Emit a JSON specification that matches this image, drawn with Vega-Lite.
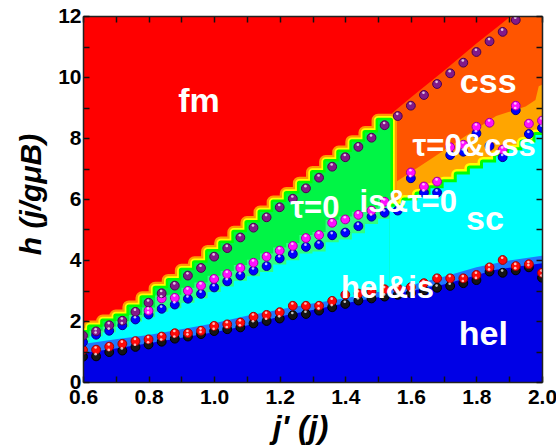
{
  "$schema": "https://vega.github.io/schema/vega-lite/v6.json",
  "width": 459,
  "height": 366,
  "autosize": "none",
  "padding": {"left": 83, "top": 16, "right": 14, "bottom": 66},
  "background": "white",
  "config": {"view": {"stroke": null}},
  "datasets": {
    "bg": [{"x": 0.6, "x2": 2.0, "y": 0, "y2": 12}],
    "css": [
      {"x": 1.535, "y": 8.75}, {"x": 1.6, "y": 9.33}, {"x": 1.7, "y": 10.2}, {"x": 1.8, "y": 11.1},
      {"x": 1.88, "y": 11.78}, {"x": 1.905, "y": 12.0}, {"x": 2.0, "y": 12.0}
    ],
    "orange": [
      {"x": 1.535, "y": 6.45}, {"x": 1.56, "y": 6.6}, {"x": 1.66, "y": 7.3}, {"x": 1.76, "y": 8.02},
      {"x": 1.86, "y": 8.72}, {"x": 1.95, "y": 9.03}, {"x": 1.98, "y": 9.25}, {"x": 1.99, "y": 9.7}, {"x": 2.0, "y": 9.75}
    ],
    "upper": [
      {"x": 0.58, "y": 1.62}, {"x": 0.62, "y": 1.80}, {"x": 0.66, "y": 2.00}, {"x": 0.70, "y": 2.16},
      {"x": 0.74, "y": 2.46}, {"x": 0.78, "y": 2.76}, {"x": 0.82, "y": 3.07}, {"x": 0.86, "y": 3.33},
      {"x": 0.90, "y": 3.66}, {"x": 0.94, "y": 3.91}, {"x": 0.98, "y": 4.28}, {"x": 1.02, "y": 4.56},
      {"x": 1.06, "y": 4.91}, {"x": 1.10, "y": 5.23}, {"x": 1.14, "y": 5.57}, {"x": 1.18, "y": 5.90},
      {"x": 1.22, "y": 6.18}, {"x": 1.26, "y": 6.52}, {"x": 1.30, "y": 6.87}, {"x": 1.34, "y": 7.23},
      {"x": 1.38, "y": 7.54}, {"x": 1.42, "y": 7.88}, {"x": 1.46, "y": 8.18}, {"x": 1.50, "y": 8.58},
      {"x": 1.538, "y": 6.2}
    ],
    "band": [
      {"x": 0.58, "y": 1.45}, {"x": 0.62, "y": 1.68}, {"x": 0.66, "y": 1.82}, {"x": 0.70, "y": 2.0},
      {"x": 0.74, "y": 2.2}, {"x": 0.78, "y": 2.44}, {"x": 0.82, "y": 2.84}, {"x": 0.86, "y": 2.86},
      {"x": 0.90, "y": 3.09}, {"x": 0.94, "y": 3.26}, {"x": 0.98, "y": 3.48}, {"x": 1.02, "y": 3.64},
      {"x": 1.06, "y": 3.84}, {"x": 1.10, "y": 4.01}, {"x": 1.14, "y": 4.21}, {"x": 1.18, "y": 4.41},
      {"x": 1.22, "y": 4.56}, {"x": 1.26, "y": 4.82}, {"x": 1.30, "y": 4.92}, {"x": 1.34, "y": 5.32},
      {"x": 1.38, "y": 5.43}, {"x": 1.42, "y": 5.58}, {"x": 1.46, "y": 5.72}, {"x": 1.50, "y": 6.01},
      {"x": 1.535, "y": 6.0}
    ],
    "cyanL": [
      {"x": 0.58, "y": 1.30}, {"x": 0.62, "y": 1.50}, {"x": 0.66, "y": 1.63}, {"x": 0.70, "y": 1.80},
      {"x": 0.74, "y": 1.98}, {"x": 0.78, "y": 2.12}, {"x": 0.82, "y": 2.30}, {"x": 0.86, "y": 2.42},
      {"x": 0.90, "y": 2.60}, {"x": 0.94, "y": 2.75}, {"x": 0.98, "y": 2.95}, {"x": 1.02, "y": 3.13},
      {"x": 1.06, "y": 3.32}, {"x": 1.10, "y": 3.47}, {"x": 1.14, "y": 3.61}, {"x": 1.18, "y": 3.85},
      {"x": 1.22, "y": 3.99}, {"x": 1.26, "y": 4.21}, {"x": 1.30, "y": 4.28}, {"x": 1.34, "y": 4.58},
      {"x": 1.38, "y": 4.67}, {"x": 1.42, "y": 4.88}, {"x": 1.46, "y": 5.18}, {"x": 1.50, "y": 5.35},
      {"x": 1.535, "y": 5.6}
    ],
    "cyanR": [
      {"x": 1.535, "y": 5.75}, {"x": 1.58, "y": 5.95}, {"x": 1.62, "y": 6.15}, {"x": 1.66, "y": 6.35},
      {"x": 1.70, "y": 6.55}, {"x": 1.74, "y": 6.8}, {"x": 1.78, "y": 7.0}, {"x": 1.82, "y": 7.2},
      {"x": 1.86, "y": 7.4}, {"x": 1.90, "y": 7.6}, {"x": 1.94, "y": 7.85}, {"x": 1.98, "y": 8.1},
      {"x": 2.0, "y": 8.1}
    ],
    "helis": [
      {"x": 0.6, "y": 1.25}, {"x": 0.7, "y": 1.40}, {"x": 0.8, "y": 1.54}, {"x": 0.9, "y": 1.73},
      {"x": 1.0, "y": 1.93}, {"x": 1.1, "y": 2.17}, {"x": 1.2, "y": 2.38}, {"x": 1.3, "y": 2.57},
      {"x": 1.4, "y": 2.75}, {"x": 1.5, "y": 2.95}, {"x": 1.6, "y": 3.17}, {"x": 1.7, "y": 3.45},
      {"x": 1.8, "y": 3.76}, {"x": 1.9, "y": 3.98}, {"x": 2.0, "y": 4.14}
    ],
    "hel": [
      {"x": 0.6, "y": 0.95}, {"x": 0.7, "y": 1.10}, {"x": 0.8, "y": 1.27}, {"x": 0.9, "y": 1.45},
      {"x": 1.0, "y": 1.63}, {"x": 1.1, "y": 1.85}, {"x": 1.2, "y": 2.15}, {"x": 1.3, "y": 2.36},
      {"x": 1.4, "y": 2.58}, {"x": 1.5, "y": 2.78}, {"x": 1.6, "y": 2.98}, {"x": 1.7, "y": 3.20},
      {"x": 1.8, "y": 3.50}, {"x": 1.85, "y": 3.66}, {"x": 1.9, "y": 3.75}, {"x": 2.0, "y": 3.89}
    ],
    "dots": [
      {"s": "black", "x": 0.60, "y": 0.83}, {"s": "black", "x": 0.64, "y": 0.84}, {"s": "black", "x": 0.68, "y": 0.98},
      {"s": "black", "x": 0.72, "y": 1.03}, {"s": "black", "x": 0.76, "y": 1.15}, {"s": "black", "x": 0.80, "y": 1.23},
      {"s": "black", "x": 0.84, "y": 1.32}, {"s": "black", "x": 0.88, "y": 1.42}, {"s": "black", "x": 0.92, "y": 1.49},
      {"s": "black", "x": 0.96, "y": 1.57}, {"s": "black", "x": 1.00, "y": 1.67}, {"s": "black", "x": 1.04, "y": 1.73},
      {"s": "black", "x": 1.08, "y": 1.79}, {"s": "black", "x": 1.12, "y": 1.92}, {"s": "black", "x": 1.16, "y": 2.00},
      {"s": "black", "x": 1.20, "y": 2.08}, {"s": "black", "x": 1.24, "y": 2.19}, {"s": "black", "x": 1.28, "y": 2.23},
      {"s": "black", "x": 1.32, "y": 2.34}, {"s": "black", "x": 1.36, "y": 2.45}, {"s": "black", "x": 1.40, "y": 2.56},
      {"s": "black", "x": 1.44, "y": 2.67}, {"s": "black", "x": 1.48, "y": 2.74}, {"s": "black", "x": 1.52, "y": 2.80},
      {"s": "black", "x": 1.56, "y": 2.86}, {"s": "black", "x": 1.60, "y": 2.91}, {"s": "black", "x": 1.64, "y": 3.00},
      {"s": "black", "x": 1.68, "y": 3.09}, {"s": "black", "x": 1.72, "y": 3.15}, {"s": "black", "x": 1.76, "y": 3.24},
      {"s": "black", "x": 1.80, "y": 3.34}, {"s": "black", "x": 1.84, "y": 3.62}, {"s": "black", "x": 1.88, "y": 3.58},
      {"s": "black", "x": 1.92, "y": 3.66}, {"s": "black", "x": 1.96, "y": 3.76}, {"s": "black", "x": 2.00, "y": 3.42},
      {"s": "red", "x": 0.60, "y": 1.05}, {"s": "red", "x": 0.64, "y": 1.06}, {"s": "red", "x": 0.68, "y": 1.16},
      {"s": "red", "x": 0.72, "y": 1.25}, {"s": "red", "x": 0.76, "y": 1.34}, {"s": "red", "x": 0.80, "y": 1.40},
      {"s": "red", "x": 0.84, "y": 1.49}, {"s": "red", "x": 0.88, "y": 1.60}, {"s": "red", "x": 0.92, "y": 1.60},
      {"s": "red", "x": 0.96, "y": 1.68}, {"s": "red", "x": 1.00, "y": 1.84}, {"s": "red", "x": 1.04, "y": 1.89},
      {"s": "red", "x": 1.08, "y": 1.95}, {"s": "red", "x": 1.12, "y": 2.14}, {"s": "red", "x": 1.16, "y": 2.20},
      {"s": "red", "x": 1.20, "y": 2.29}, {"s": "red", "x": 1.24, "y": 2.50}, {"s": "red", "x": 1.28, "y": 2.50},
      {"s": "red", "x": 1.32, "y": 2.50}, {"s": "red", "x": 1.36, "y": 2.66}, {"s": "red", "x": 1.40, "y": 2.86},
      {"s": "red", "x": 1.44, "y": 2.90}, {"s": "red", "x": 1.48, "y": 2.97}, {"s": "red", "x": 1.52, "y": 3.04},
      {"s": "red", "x": 1.56, "y": 3.07}, {"s": "red", "x": 1.60, "y": 3.11}, {"s": "red", "x": 1.64, "y": 3.24},
      {"s": "red", "x": 1.68, "y": 3.40}, {"s": "red", "x": 1.72, "y": 3.40}, {"s": "red", "x": 1.76, "y": 3.40},
      {"s": "red", "x": 1.80, "y": 3.51}, {"s": "red", "x": 1.84, "y": 3.76}, {"s": "red", "x": 1.88, "y": 4.00},
      {"s": "red", "x": 1.92, "y": 3.80}, {"s": "red", "x": 1.96, "y": 3.86}, {"s": "red", "x": 2.00, "y": 3.58},
      {"s": "blue", "x": 0.60, "y": 1.31}, {"s": "blue", "x": 0.64, "y": 1.55}, {"s": "blue", "x": 0.68, "y": 1.68},
      {"s": "blue", "x": 0.72, "y": 1.86}, {"s": "blue", "x": 0.76, "y": 2.05}, {"s": "blue", "x": 0.80, "y": 2.21},
      {"s": "blue", "x": 0.84, "y": 2.40}, {"s": "blue", "x": 0.88, "y": 2.54}, {"s": "blue", "x": 0.92, "y": 2.73},
      {"s": "blue", "x": 0.96, "y": 2.89}, {"s": "blue", "x": 1.00, "y": 3.10}, {"s": "blue", "x": 1.04, "y": 3.30},
      {"s": "blue", "x": 1.08, "y": 3.49}, {"s": "blue", "x": 1.12, "y": 3.65}, {"s": "blue", "x": 1.16, "y": 3.80},
      {"s": "blue", "x": 1.20, "y": 4.05}, {"s": "blue", "x": 1.24, "y": 4.20}, {"s": "blue", "x": 1.28, "y": 4.43},
      {"s": "blue", "x": 1.32, "y": 4.50}, {"s": "blue", "x": 1.36, "y": 4.81}, {"s": "blue", "x": 1.40, "y": 4.90},
      {"s": "blue", "x": 1.44, "y": 5.11}, {"s": "blue", "x": 1.48, "y": 5.42}, {"s": "blue", "x": 1.52, "y": 5.55},
      {"s": "blue", "x": 1.56, "y": 5.62}, {"s": "blue", "x": 1.60, "y": 6.68}, {"s": "blue", "x": 1.64, "y": 6.21},
      {"s": "blue", "x": 1.68, "y": 6.21}, {"s": "blue", "x": 1.72, "y": 7.44}, {"s": "blue", "x": 1.76, "y": 7.55},
      {"s": "blue", "x": 1.80, "y": 8.15}, {"s": "blue", "x": 1.84, "y": 7.74}, {"s": "blue", "x": 1.88, "y": 7.37},
      {"s": "blue", "x": 1.92, "y": 8.91}, {"s": "blue", "x": 1.96, "y": 8.13}, {"s": "blue", "x": 2.00, "y": 8.33},
      {"s": "magenta", "x": 0.80, "y": 2.34}, {"s": "magenta", "x": 0.84, "y": 2.74}, {"s": "magenta", "x": 0.88, "y": 2.76},
      {"s": "magenta", "x": 0.92, "y": 2.99}, {"s": "magenta", "x": 0.96, "y": 3.16}, {"s": "magenta", "x": 1.00, "y": 3.38},
      {"s": "magenta", "x": 1.04, "y": 3.54}, {"s": "magenta", "x": 1.08, "y": 3.74}, {"s": "magenta", "x": 1.12, "y": 3.91},
      {"s": "magenta", "x": 1.16, "y": 4.11}, {"s": "magenta", "x": 1.20, "y": 4.31}, {"s": "magenta", "x": 1.24, "y": 4.46},
      {"s": "magenta", "x": 1.28, "y": 4.72}, {"s": "magenta", "x": 1.32, "y": 4.82}, {"s": "magenta", "x": 1.36, "y": 5.22},
      {"s": "magenta", "x": 1.40, "y": 5.33}, {"s": "magenta", "x": 1.44, "y": 5.48}, {"s": "magenta", "x": 1.48, "y": 5.62},
      {"s": "magenta", "x": 1.52, "y": 5.91}, {"s": "magenta", "x": 1.60, "y": 6.87}, {"s": "magenta", "x": 1.64, "y": 6.41},
      {"s": "magenta", "x": 1.68, "y": 6.57}, {"s": "magenta", "x": 1.72, "y": 7.70}, {"s": "magenta", "x": 1.76, "y": 7.78},
      {"s": "magenta", "x": 1.80, "y": 8.37}, {"s": "magenta", "x": 1.84, "y": 8.50}, {"s": "magenta", "x": 1.88, "y": 7.62},
      {"s": "magenta", "x": 1.92, "y": 9.06}, {"s": "magenta", "x": 1.96, "y": 8.47}, {"s": "magenta", "x": 2.00, "y": 8.57},
      {"s": "purple", "x": 0.60, "y": 1.52}, {"s": "purple", "x": 0.64, "y": 1.66}, {"s": "purple", "x": 0.68, "y": 1.86},
      {"s": "purple", "x": 0.72, "y": 2.01}, {"s": "purple", "x": 0.76, "y": 2.30}, {"s": "purple", "x": 0.80, "y": 2.60},
      {"s": "purple", "x": 0.84, "y": 2.91}, {"s": "purple", "x": 0.88, "y": 3.16}, {"s": "purple", "x": 0.92, "y": 3.49},
      {"s": "purple", "x": 0.96, "y": 3.74}, {"s": "purple", "x": 1.00, "y": 4.11}, {"s": "purple", "x": 1.04, "y": 4.39},
      {"s": "purple", "x": 1.08, "y": 4.74}, {"s": "purple", "x": 1.12, "y": 5.06}, {"s": "purple", "x": 1.16, "y": 5.40},
      {"s": "purple", "x": 1.20, "y": 5.73}, {"s": "purple", "x": 1.24, "y": 6.01}, {"s": "purple", "x": 1.28, "y": 6.35},
      {"s": "purple", "x": 1.32, "y": 6.70}, {"s": "purple", "x": 1.36, "y": 7.06}, {"s": "purple", "x": 1.40, "y": 7.37},
      {"s": "purple", "x": 1.44, "y": 7.71}, {"s": "purple", "x": 1.48, "y": 8.01}, {"s": "purple", "x": 1.52, "y": 8.42},
      {"s": "purple", "x": 1.56, "y": 8.72}, {"s": "purple", "x": 1.60, "y": 9.06}, {"s": "purple", "x": 1.64, "y": 9.41},
      {"s": "purple", "x": 1.68, "y": 9.77}, {"s": "purple", "x": 1.72, "y": 10.12}, {"s": "purple", "x": 1.76, "y": 10.47},
      {"s": "purple", "x": 1.80, "y": 10.82}, {"s": "purple", "x": 1.84, "y": 11.17}, {"s": "purple", "x": 1.88, "y": 11.48},
      {"s": "purple", "x": 1.92, "y": 11.87}
    ],
    "labelsBig": [
      {"t": "fm", "x": 0.954, "y": 8.86}, {"t": "css", "x": 1.836, "y": 9.46},
      {"t": "sc", "x": 1.826, "y": 4.98}, {"t": "hel", "x": 1.821, "y": 1.22}
    ],
    "labelsSmall": [
      {"t": "τ=0&css", "x": 1.793, "y": 7.41}, {"t": "τ=0", "x": 1.307, "y": 5.37},
      {"t": "is&τ=0", "x": 1.592, "y": 5.58}, {"t": "hel&is", "x": 1.529, "y": 2.75}
    ]
  },
  "resolve": {"scale": {"x": "shared", "y": "shared"}, "axis": {"x": "independent", "y": "independent"}},
  "layer": [
    {
      "data": {"name": "bg"},
      "mark": {"type": "rect", "color": "#FF0000"},
      "encoding": {
        "x": {"field": "x", "type": "quantitative", "scale": {"domain": [0.6, 2.0], "nice": false, "zero": false},
          "axis": {"orient": "bottom", "values": [0.6, 0.7, 0.8, 0.9, 1.0, 1.1, 1.2, 1.3, 1.4, 1.5, 1.6, 1.7, 1.8, 1.9, 2.0],
            "labelExpr": "round(datum.value*10) % 2 == 0 ? format(datum.value, '.1f') : ''",
            "labelFont": "Liberation Sans", "labelFontWeight": "bold", "labelFontSize": 21, "labelColor": "#000",
            "labelPadding": 10, "labelFlush": false, "labelOverlap": false, "grid": false,
            "tickSize": -6, "tickWidth": 1.5, "tickColor": "#111", "domainColor": "#222", "domainWidth": 1.5, "zindex": 1,
            "title": "j' (j)", "titleFont": "Liberation Sans", "titleFontStyle": "italic", "titleFontWeight": "bold",
            "titleFontSize": 32, "titleColor": "#000", "titleX": 217, "titleY": 55, "titleBaseline": "alphabetic", "titleAlign": "center"}},
        "x2": {"field": "x2"},
        "y": {"field": "y", "type": "quantitative", "scale": {"domain": [0, 12], "nice": false, "zero": false},
          "axis": {"orient": "left", "values": [0, 1, 2, 3, 4, 5, 6, 7, 8, 9, 10, 11, 12],
            "labelExpr": "datum.value % 2 == 0 ? format(datum.value, 'd') : ''",
            "labelFont": "Liberation Sans", "labelFontWeight": "bold", "labelFontSize": 21, "labelColor": "#000",
            "labelPadding": 8, "labelFlush": false, "labelOverlap": false, "grid": false,
            "tickSize": -6, "tickWidth": 1.5, "tickColor": "#111", "domainColor": "#222", "domainWidth": 1.5, "zindex": 1,
            "title": "h (j/gμB)", "titleFont": "Liberation Sans", "titleFontStyle": "italic", "titleFontWeight": "bold",
            "titleFontSize": 30, "titleColor": "#000", "titleX": -43, "titleY": 178, "titleBaseline": "alphabetic", "titleAlign": "center", "titleAngle": -90}},
        "y2": {"field": "y2"}
      }
    },
    {
      "data": {"name": "bg"},
      "mark": {"type": "rect", "opacity": 0},
      "encoding": {
        "x": {"field": "x", "type": "quantitative", "scale": {"domain": [0.6, 2.0]},
          "axis": {"orient": "top", "values": [0.6, 0.7, 0.8, 0.9, 1.0, 1.1, 1.2, 1.3, 1.4, 1.5, 1.6, 1.7, 1.8, 1.9, 2.0],
            "labels": false, "title": null, "grid": false, "tickSize": -6, "tickWidth": 1.5, "tickColor": "#111",
            "domainColor": "#222", "domainWidth": 1.5, "zindex": 1}},
        "x2": {"field": "x2"},
        "y": {"field": "y", "type": "quantitative", "scale": {"domain": [0, 12]},
          "axis": {"orient": "right", "values": [0, 1, 2, 3, 4, 5, 6, 7, 8, 9, 10, 11, 12],
            "labels": false, "title": null, "grid": false, "tickSize": -6, "tickWidth": 1.5, "tickColor": "#111",
            "domainColor": "#222", "domainWidth": 1.5, "zindex": 1}},
        "y2": {"field": "y2"}
      }
    },
    {
      "data": {"name": "css"},
      "mark": {"type": "area", "color": "#FF5500", "clip": true},
      "encoding": {
        "x": {"field": "x", "type": "quantitative", "scale": {"domain": [0.6, 2.0]}, "axis": null},
        "y": {"field": "y", "type": "quantitative", "scale": {"domain": [0, 12]}, "axis": null}
      }
    },
    {
      "data": {"name": "orange"},
      "mark": {"type": "area", "color": "#FFA500", "clip": true},
      "encoding": {
        "x": {"field": "x", "type": "quantitative", "scale": {"domain": [0.6, 2.0]}, "axis": null},
        "y": {"field": "y", "type": "quantitative", "scale": {"domain": [0, 12]}, "axis": null}
      }
    },
    {
      "data": {"name": "upper"},
      "mark": {"type": "line", "interpolate": "step-after", "color": "#FF9A00", "strokeWidth": 13, "strokeJoin": "round", "clip": true},
      "encoding": {
        "x": {"field": "x", "type": "quantitative", "scale": {"domain": [0.6, 2.0]}, "axis": null},
        "y": {"field": "y", "type": "quantitative", "scale": {"domain": [0, 12]}, "axis": null}
      }
    },
    {
      "data": {"name": "upper"},
      "mark": {"type": "line", "interpolate": "step-after", "color": "#FFFF00", "strokeWidth": 8.5, "strokeJoin": "round", "clip": true},
      "encoding": {
        "x": {"field": "x", "type": "quantitative", "scale": {"domain": [0.6, 2.0]}, "axis": null},
        "y": {"field": "y", "type": "quantitative", "scale": {"domain": [0, 12]}, "axis": null}
      }
    },
    {
      "data": {"name": "upper"},
      "mark": {"type": "line", "interpolate": "step-after", "color": "#00FF00", "strokeWidth": 5, "strokeJoin": "round", "clip": true},
      "encoding": {
        "x": {"field": "x", "type": "quantitative", "scale": {"domain": [0.6, 2.0]}, "axis": null},
        "y": {"field": "y", "type": "quantitative", "scale": {"domain": [0, 12]}, "axis": null}
      }
    },
    {
      "data": {"name": "upper"},
      "mark": {"type": "area", "interpolate": "step-after", "color": "#00F545", "clip": true},
      "encoding": {
        "x": {"field": "x", "type": "quantitative", "scale": {"domain": [0.6, 2.0]}, "axis": null},
        "y": {"field": "y", "type": "quantitative", "scale": {"domain": [0, 12]}, "axis": null}
      }
    },
    {
      "data": {"name": "band"},
      "mark": {"type": "area", "interpolate": "step-after", "color": "#2EFF80", "clip": true},
      "encoding": {
        "x": {"field": "x", "type": "quantitative", "scale": {"domain": [0.6, 2.0]}, "axis": null},
        "y": {"field": "y", "type": "quantitative", "scale": {"domain": [0, 12]}, "axis": null}
      }
    },
    {
      "data": {"name": "cyanR"},
      "mark": {"type": "line", "interpolate": "step-after", "color": "#FFFF00", "strokeWidth": 11, "strokeJoin": "round", "clip": true},
      "encoding": {
        "x": {"field": "x", "type": "quantitative", "scale": {"domain": [0.6, 2.0]}, "axis": null},
        "y": {"field": "y", "type": "quantitative", "scale": {"domain": [0, 12]}, "axis": null}
      }
    },
    {
      "data": {"name": "cyanR"},
      "mark": {"type": "line", "interpolate": "step-after", "color": "#00FF00", "strokeWidth": 6, "strokeJoin": "round", "clip": true},
      "encoding": {
        "x": {"field": "x", "type": "quantitative", "scale": {"domain": [0.6, 2.0]}, "axis": null},
        "y": {"field": "y", "type": "quantitative", "scale": {"domain": [0, 12]}, "axis": null}
      }
    },
    {
      "data": {"name": "cyanL"},
      "mark": {"type": "area", "interpolate": "step-after", "color": "#00FFFF", "clip": true},
      "encoding": {
        "x": {"field": "x", "type": "quantitative", "scale": {"domain": [0.6, 2.0]}, "axis": null},
        "y": {"field": "y", "type": "quantitative", "scale": {"domain": [0, 12]}, "axis": null}
      }
    },
    {
      "data": {"name": "cyanR"},
      "mark": {"type": "area", "interpolate": "step-after", "color": "#00FFFF", "clip": true},
      "encoding": {
        "x": {"field": "x", "type": "quantitative", "scale": {"domain": [0.6, 2.0]}, "axis": null},
        "y": {"field": "y", "type": "quantitative", "scale": {"domain": [0, 12]}, "axis": null}
      }
    },
    {
      "data": {"name": "helis"},
      "mark": {"type": "area", "color": "#1E78FF", "clip": true},
      "encoding": {
        "x": {"field": "x", "type": "quantitative", "scale": {"domain": [0.6, 2.0]}, "axis": null},
        "y": {"field": "y", "type": "quantitative", "scale": {"domain": [0, 12]}, "axis": null}
      }
    },
    {
      "data": {"name": "hel"},
      "mark": {"type": "area", "color": "#0000E6", "clip": true},
      "encoding": {
        "x": {"field": "x", "type": "quantitative", "scale": {"domain": [0.6, 2.0]}, "axis": null},
        "y": {"field": "y", "type": "quantitative", "scale": {"domain": [0, 12]}, "axis": null}
      }
    },
    {
      "data": {"name": "dots"},
      "mark": {"type": "circle", "size": 78, "opacity": 1, "strokeWidth": 1, "clip": true},
      "encoding": {
        "x": {"field": "x", "type": "quantitative", "scale": {"domain": [0.6, 2.0]}, "axis": null},
        "y": {"field": "y", "type": "quantitative", "scale": {"domain": [0, 12]}, "axis": null},
        "fill": {"field": "s", "type": "nominal", "legend": null,
          "scale": {"domain": ["black", "red", "blue", "magenta", "purple"], "range": ["#151515", "#FF0A0A", "#0000FF", "#FF10FF", "#821A8A"]}},
        "stroke": {"field": "s", "type": "nominal", "legend": null,
          "scale": {"domain": ["black", "red", "blue", "magenta", "purple"], "range": ["#000000", "#A00000", "#000090", "#A000A0", "#4A0050"]}}
      }
    },
    {
      "data": {"name": "dots"},
      "mark": {"type": "circle", "size": 7, "color": "#FFFFFF", "opacity": 0.75, "xOffset": -0.5, "yOffset": -2.2, "clip": true},
      "encoding": {
        "x": {"field": "x", "type": "quantitative", "scale": {"domain": [0.6, 2.0]}, "axis": null},
        "y": {"field": "y", "type": "quantitative", "scale": {"domain": [0, 12]}, "axis": null}
      }
    },
    {
      "data": {"name": "labelsBig"},
      "mark": {"type": "text", "font": "Liberation Sans", "fontWeight": "bold", "fontSize": 34, "color": "#FFFFFF", "align": "center", "baseline": "alphabetic"},
      "encoding": {
        "x": {"field": "x", "type": "quantitative", "scale": {"domain": [0.6, 2.0]}, "axis": null},
        "y": {"field": "y", "type": "quantitative", "scale": {"domain": [0, 12]}, "axis": null},
        "text": {"field": "t"}
      }
    },
    {
      "data": {"name": "labelsSmall"},
      "mark": {"type": "text", "font": "Liberation Sans", "fontWeight": "bold", "fontSize": 31, "color": "#FFFFFF", "align": "center", "baseline": "alphabetic"},
      "encoding": {
        "x": {"field": "x", "type": "quantitative", "scale": {"domain": [0.6, 2.0]}, "axis": null},
        "y": {"field": "y", "type": "quantitative", "scale": {"domain": [0, 12]}, "axis": null},
        "text": {"field": "t"}
      }
    }
  ]
}
